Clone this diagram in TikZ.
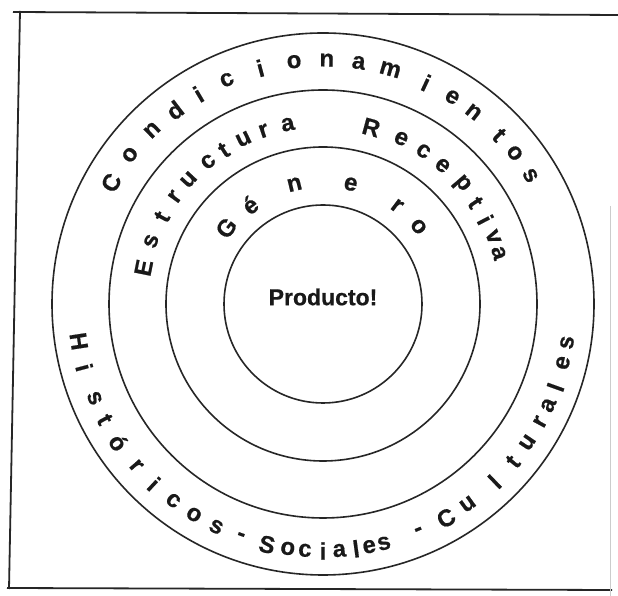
\documentclass[tikz,border=0pt]{standalone}
\usepackage{fontspec}
\setmainfont{Liberation Sans}[BoldFeatures={FakeBold=0.6}]
\usetikzlibrary{calc}
\begin{document}
\begin{tikzpicture}[x=1pt,y=1pt,
  ring/.style={circle,draw=black!85,line width=1.6pt,inner sep=0pt},
  frameline/.style={draw=black!85,line width=1.8pt},
  arclet/.style={inner sep=0pt,font=\fontsize{24}{24}\selectfont\bfseries,text=black!90},
  prodtext/.style={inner sep=0pt,font=\fontsize{23}{23}\selectfont\bfseries,text=black!90}]
\useasboundingbox (0,0) rectangle (618,596);
\fill[white] (0,0) rectangle (618,596);
% frame
\coordinate (f1) at (13,584);
\coordinate (f2) at (618,581);
\coordinate (f3) at (20,585);
\coordinate (f4) at (9,7);
\coordinate (f5) at (7,8);
\coordinate (f6) at (612,6);
\coordinate (f7) at (610,390);
\coordinate (f8) at (610,0);
\draw[frameline] (f1) -- (f2);
\draw[frameline] (f3) -- (f4);
\draw[frameline] (f5) -- (f6);
\draw[draw=black!20,line width=0.8pt] (f7) -- (f8);
% circles
\coordinate (C) at (323,292);
\node[ring,minimum size=542pt] (outer) at (C) {};
\node[ring,minimum size=428pt] (second) at (C) {};
\node[ring,minimum size=314pt] (third) at (C) {};
\node[ring,minimum size=198pt] (inner) at (C) {};
\node[prodtext] (prod) at (323,299) {Producto!};
% Condicionamientos
\foreach \a/\l [count=\i] in {150.2/C,142.3/o,134.5/n,127.4/d,120.7/i,113.2/c,104.9/i,96.8/o,89.1/n,81.6/a,74/m,65/i,58/e,51.9/n,43.8/t,38.2/o,31.8/s}
  \node[arclet,rotate=\a-90] (cond\i) at ($(C)+(\a:244)$) {\l};
% Estructura Receptiva
\foreach \a/\l [count=\i] in {168.6/E,159.9/s,151.6/t,144.1/r,137.2/u,128.9/c,122.8/t,115.7/u,108.9/r,101.1/a,74.7/R,64.7/e,56.7/c,49.2/e,40.8/p,33.6/t,27.4/i,21.5/v,16.2/a}
  \node[arclet,rotate=\a-90] (estr\i) at ($(C)+(\a:183)$) {\l};
% Genero
\foreach \a/\l [count=\i] in {141.8/G,126.4/é,103.4/n,77/e,53/r,39/o}
  \node[arclet,rotate=\a-90] (gen\i) at ($(C)+(\a:123)$) {\l};
% Historicos - Sociales - Culturales
\foreach \a/\l [count=\i] in {188.7/H,194.9/i,202.4/s,207.9/t,214.1/ó,220.9/r,226.8/i,232.7/c,238.5/o,244.4/s,250.5/-,256.9/S,261.8/o,265.8/c,270/i,273.8/a,277.7/l,280.8/e,284.3/s,292.9/-,299.9/C,305.9/u,314/l,320.3/t,325.9/u,331.5/r,335.8/a,340.3/l,346.2/e,351/s}
  \node[arclet,rotate=\a+90] (hist\i) at ($(C)+(\a:247)$) {\l};
\end{tikzpicture}
\end{document}
